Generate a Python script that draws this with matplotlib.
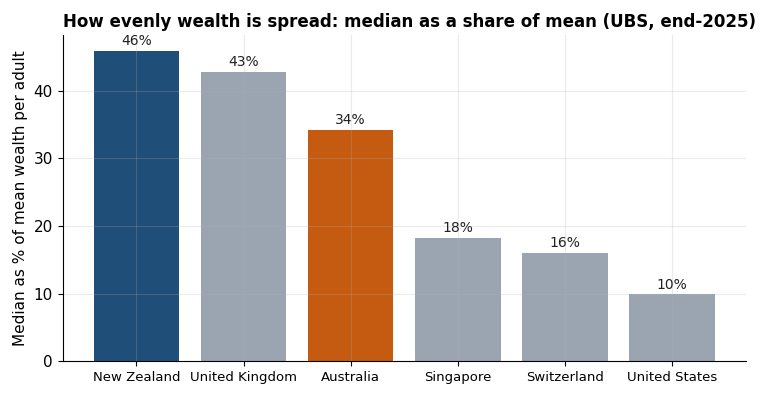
import matplotlib.pyplot as plt

countries = ["New Zealand", "United Kingdom", "Australia",
             "Singapore", "Switzerland", "United States"]
median_share = [45.9, 42.8, 34.2, 18.2, 16.0, 9.9]
bar_colors = ["#1f4e79", "#9aa5b1", "#c55a11",
              "#9aa5b1", "#9aa5b1", "#9aa5b1"]


def main() -> None:
    figure, axis = plt.subplots(figsize=(7.72, 4.0), dpi=100)

    bars = axis.bar(countries, median_share, color=bar_colors, width=0.8)

    for bar, value in zip(bars, median_share):
        axis.text(
            bar.get_x() + bar.get_width() / 2,
            bar.get_height() + 0.4,
            f"{value:.0f}%",
            ha="center",
            va="bottom",
            fontsize=10,
            color="#222222",
        )

    axis.set_title(
        "How evenly wealth is spread: median as a share of mean (UBS, end-2025)",
        fontsize=12,
        fontweight="bold",
        x=0.508,
    )
    axis.set_ylabel("Median as % of mean wealth per adult", fontsize=11)
    axis.set_ylim(0, 48.2)
    axis.tick_params(axis="x", labelsize=9.5)
    axis.tick_params(axis="y", labelsize=11)
    axis.grid(True, alpha=0.25)
    axis.spines["top"].set_visible(False)
    axis.spines["right"].set_visible(False)

    figure.subplots_adjust(left=0.081, right=0.966, top=0.912, bottom=0.097)
    figure.savefig("out.png", dpi=100)


if __name__ == "__main__":
    main()
